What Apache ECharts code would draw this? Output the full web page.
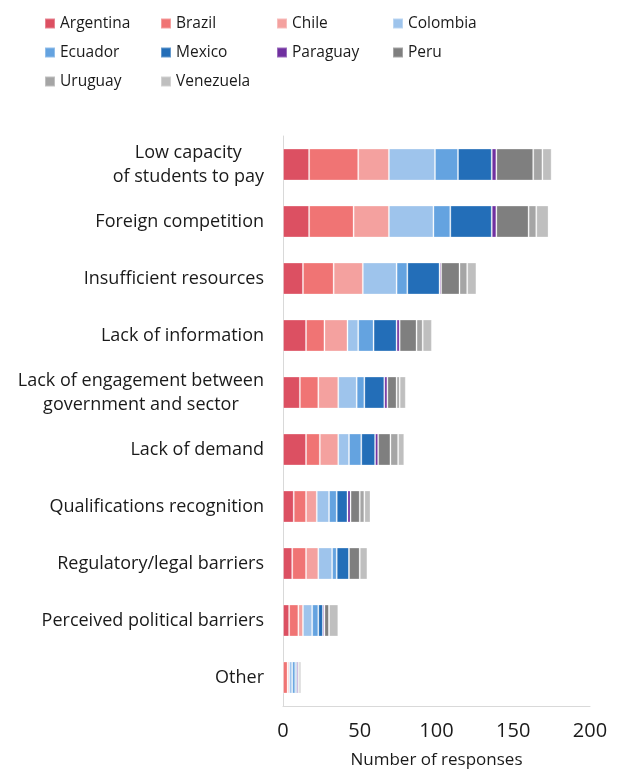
<!DOCTYPE html>
<html>
<head>
<meta charset="utf-8">
<script src="https://cdn.jsdelivr.net/npm/echarts@6/dist/echarts.min.js"></script>
<style>
  html, body { margin: 0; padding: 0; background: #fff; }
  #chart { width: 626px; height: 771px; }
</style>
</head>
<body>
<div id="chart"></div>
<script>
// barriers, top to bottom
const categories = [
  "Low capacity\nof students to pay",
  "Foreign competition",
  "Insufficient resources",
  "Lack of information",
  "Lack of engagement between\ngovernment and sector",
  "Lack of demand",
  "Qualifications recognition",
  "Regulatory/legal barriers",
  "Perceived political barriers",
  "Other"
];

const countries = ["Argentina", "Brazil", "Chile", "Colombia", "Ecuador",
  "Mexico", "Paraguay", "Peru", "Uruguay", "Venezuela"];

// responses per country, in category order
const argentina = [17, 17, 13, 15, 11, 15, 7, 6, 4, 0];
const brazil    = [32, 29, 20, 12, 12, 9, 8, 9, 6, 3];
const chile     = [20, 23, 19, 15, 13, 12, 7, 8, 3, 1];
const colombia  = [30, 29, 22, 7, 12, 7, 8, 9, 6, 2];
const ecuador   = [15, 11, 7, 10, 5, 8, 5, 3, 4, 2];
const mexico    = [22, 27, 21, 15, 13, 9, 7, 8, 3, 1];
const paraguay  = [3, 3, 1, 2, 2, 2, 2, 0, 1, 1];
const peru      = [24, 21, 12, 11, 6, 8, 6, 7, 3, 1];
const uruguay   = [6, 5, 5, 4, 2, 5, 3, 0, 0, 1];
const venezuela = [6, 8, 6, 6, 4, 4, 4, 5, 6, 0];

const xTicks = [0, 50, 100, 150, 200];

const seriesData = [argentina, brazil, chile, colombia, ecuador,
  mexico, paraguay, peru, uruguay, venezuela];
const colors = ["#dc5062", "#f07474", "#f4a19f", "#9ec4ec", "#64a3e0",
  "#236eb8", "#7030a0", "#7f7f7f", "#a5a5a5", "#bfbfbf"];

const font = "'Open Sans', sans-serif";

let myChart = echarts.init(document.getElementById("chart"));
myChart.setOption({
  animation: false,
  textStyle: { fontFamily: font },
  legend: {
    top: 11,
    left: 44,
    width: 470,
    padding: 0,
    icon: "rect",
    itemWidth: 10,
    itemHeight: 10,
    itemGap: 4,
    data: countries,
    textStyle: {
      fontSize: 15.5,
      color: "#1a1a1a",
      width: 96,
      lineHeight: 25,
      fontFamily: font
    }
  },
  grid: {
    left: 283,
    right: 36,
    top: 136,
    bottom: 65,
    outerBoundsMode: "none"
  },
  xAxis: {
    type: "value",
    min: xTicks[0],
    max: xTicks[xTicks.length - 1],
    interval: 50,
    name: "Number of responses",
    nameLocation: "middle",
    nameGap: 46,
    nameTextStyle: { fontSize: 17, color: "#1a1a1a", fontFamily: font },
    axisLine: { show: true, lineStyle: { color: "#d9d9d9", width: 1 } },
    axisTick: { show: false },
    splitLine: { show: false },
    axisLabel: { fontSize: 20, color: "#1a1a1a", margin: 15, fontFamily: font }
  },
  yAxis: {
    type: "category",
    inverse: true,
    data: categories,
    axisLine: { show: true, lineStyle: { color: "#d9d9d9", width: 1 } },
    axisTick: { show: false },
    axisLabel: {
      margin: 19,
      formatter: function (v) {
        return v.split("\n").map(function (s) { return "{c|" + s + "}"; }).join("\n");
      },
      rich: {
        c: { align: "center", fontSize: 18, lineHeight: 24, color: "#1a1a1a", fontFamily: font }
      }
    }
  },
  series: countries.map(function (name, i) {
    return {
      name: name,
      type: "bar",
      stack: "total",
      barWidth: 32,
      itemStyle: {
        color: colors[i],
        borderColor: "rgba(255,255,255,0.3)",
        borderWidth: 1
      },
      data: seriesData[i]
    };
  })
});
</script>
</body>
</html>
